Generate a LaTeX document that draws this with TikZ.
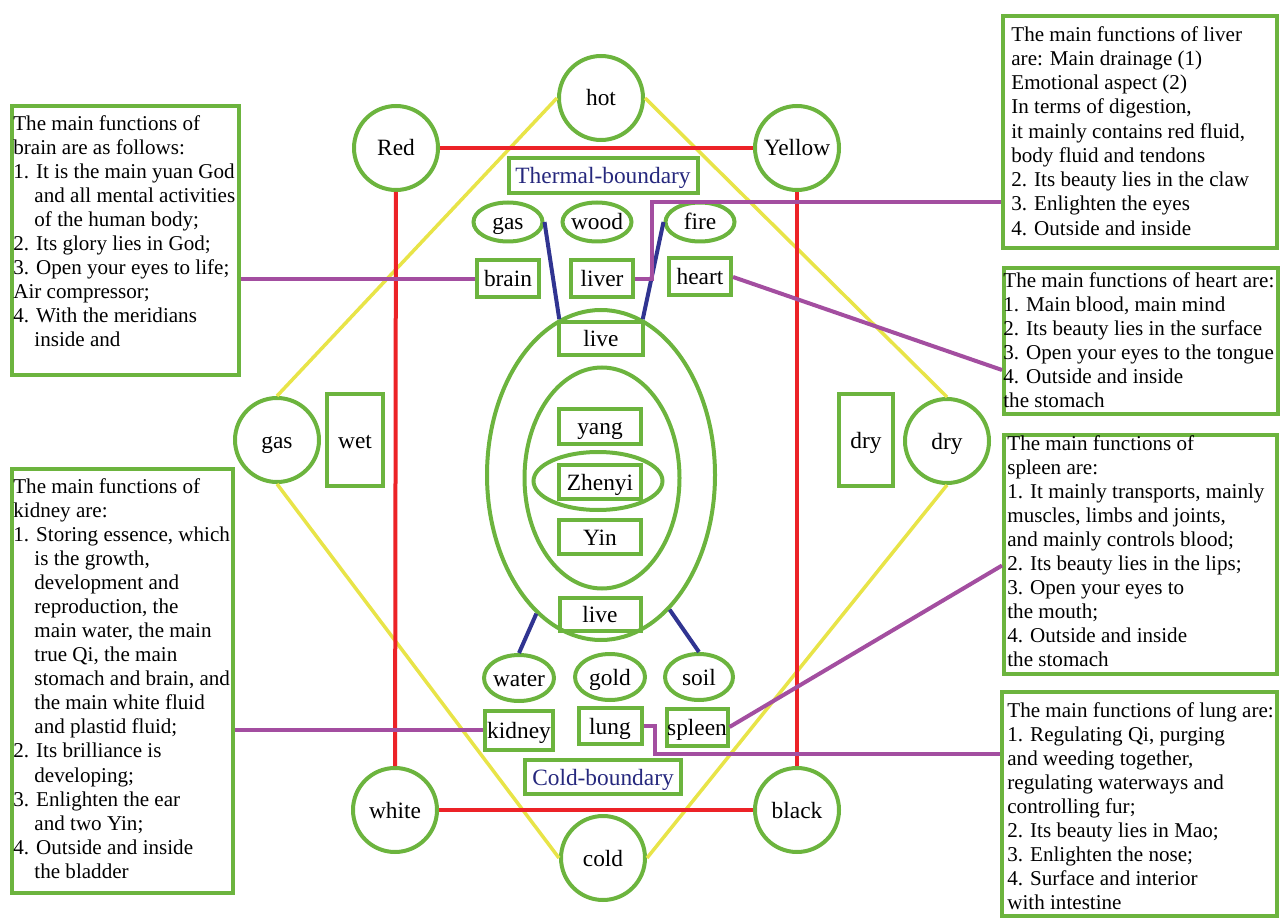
\documentclass[tikz,border=0pt]{standalone}
\usepackage{fontspec}
\setmainfont{Liberation Serif}
\usetikzlibrary{positioning}
\usetikzlibrary{shapes.geometric}
\newdimen\px
\px=0.02cm
\definecolor{ringgreen}{RGB}{108,180,62}
\definecolor{linered}{RGB}{236,34,39}
\definecolor{lineyellow}{RGB}{232,228,72}
\definecolor{lineblue}{RGB}{48,52,145}
\definecolor{linepurple}{RGB}{163,78,160}
\definecolor{labelnavy}{RGB}{38,40,125}
\newcommand\indt{\hspace*{1em}}

\begin{document}
\begin{tikzpicture}
    [
    x=0.02cm, y=-0.02cm,
    on grid,
    every node/.style={inner sep=0pt, font=\fontsize{13.3}{16}\selectfont},
    ring/.style={circle, draw=ringgreen, line width=4\px, minimum size=84\px, text height=20\px, text depth=4\px},
    oval/.style={ellipse, draw=ringgreen, line width=4\px, inner sep=-8\px, minimum width=69\px, minimum height=39\px, text height=20\px, text depth=4\px},
    shell/.style={ellipse, draw=ringgreen, line width=4\px},
    organ/.style={rectangle, draw=ringgreen, line width=4\px, minimum width=62\px, minimum height=37\px, text height=20\px, text depth=4\px},
    infobox/.style={rectangle, draw=ringgreen, line width=4\px, anchor=north west},
    infotext/.style={anchor=north west, align=left, font=\fontsize{12}{#1}\selectfont},
    infotext/.default=13.7,
    hotcold/.style={draw=lineyellow, line width=3.5\px},
    colour/.style={draw=linered, line width=4\px},
    flow/.style={draw=lineblue, line width=4\px},
    link/.style={draw=linepurple, line width=4\px},
    ]
    \useasboundingbox (0,0) rectangle (1280,918);

    % outer circles
    \node[ring] (cir_hot) at (601,98) {hot};
    \node[ring] (cir_red) at (396,148) {Red};
    \node[ring] (cir_yellow) at (797,148) {Yellow};
    \node[ring] (cir_gas) at (277,440) {gas};
    \node[ring] (cir_dry) at (947,441) {dry};
    \node[ring] (cir_white) at (395,810) {white};
    \node[ring] (cir_black) at (797,810) {black};
    \node[ring] (cir_cold) at (603,858) {cold};

    \node[organ, minimum width=56\px, minimum height=92\px] (box_wet) at (355,440) {wet};
    \node[organ, minimum width=54\px, minimum height=92\px] (box_dry) at (866,440) {dry};

    \node[organ, minimum width=189\px, minimum height=35\px, text=labelnavy] (box_thermal) at (603,176) {Thermal-boundary};
    \node[organ, minimum width=156\px, minimum height=34\px, text=labelnavy] (box_coldb) at (603,777) {Cold-boundary};

    % upper phases
    \node[oval] (ell_gas) at (508,222) {gas};
    \node[oval] (ell_wood) at (597,222) {wood};
    \node[oval] (ell_fire) at (700,222) {fire};
    \node[organ, below=57\px of ell_gas] (box_brain) {brain};
    \node[organ, below=57\px of ell_wood, xshift=5\px] (box_liver) {liver};
    \node[organ, below=55\px of ell_fire] (box_heart) {heart};

    % centre
    \node[shell, minimum width=228\px, minimum height=330\px] (ring_outer) at (601,475) {};
    \node[shell, minimum width=155\px, minimum height=221\px] (ring_inner) at (602,478) {};
    \node[shell, minimum width=129\px, minimum height=58\px] (ring_zhenyi) at (598,481) {};
    \node[organ, minimum width=84\px, minimum height=33\px] (box_live_up) at (601,339) {live};
    \node[organ, minimum width=82\px, minimum height=34\px] (box_zhenyi) at (600,482) {Zhenyi};
    \node[organ, minimum width=82\px, minimum height=35\px, above=56\px of box_zhenyi] (box_yang) {yang};
    \node[organ, minimum width=82\px, minimum height=34\px, below=55\px of box_zhenyi] (box_yin) {Yin};
    \node[organ, minimum width=81\px, minimum height=33\px] (box_live_dn) at (600,614) {live};

    % lower phases
    \node[oval, minimum width=70\px, minimum height=46\px] (ell_water) at (519,678) {water};
    \node[oval, minimum width=70\px, minimum height=46\px] (ell_gold) at (610,677) {gold};
    \node[oval, minimum width=68\px, minimum height=46\px] (ell_soil) at (699,677) {soil};
    \node[organ, minimum width=68\px, minimum height=39\px, below=52\px of ell_water] (box_kidney) {kidney};
    \node[organ, minimum width=63\px, minimum height=36\px, below=49\px of ell_gold] (box_lung) {lung};
    \node[organ, minimum width=61\px, minimum height=37\px, below=50\px of ell_soil, xshift=-2\px] (box_spleen) {spleen};

    % function boxes
    \node[infobox, minimum width=227\px, minimum height=269\px] (info_brain) at (10,104) {};
    \node[infotext] (txt_brain) at (13,115) {The main functions of\\ brain are as follows:\\ 1. It is the main yuan God\\ \indt and all mental activities\\ \indt of the human body;\\ 2. Its glory lies in God;\\ 3. Open your eyes to life;\\ Air compressor;\\ 4. With the meridians\\ \indt inside and};

    \node[infobox, minimum width=221\px, minimum height=424\px] (info_kidney) at (10,467) {};
    \node[infotext] (txt_kidney) at (13,478) {The main functions of\\ kidney are:\\ 1. Storing essence, which\\ \indt is the growth,\\ \indt development and\\ \indt reproduction, the\\ \indt main water, the main\\ \indt true Qi, the main\\ \indt stomach and brain, and\\ \indt the main white fluid\\ \indt and plastid fluid;\\ 2. Its brilliance is\\ \indt developing;\\ 3. Enlighten the ear\\ \indt and two Yin;\\ 4. Outside and inside\\ \indt the bladder};

    \node[infobox, minimum width=274\px, minimum height=232\px] (info_liver) at (1001,14) {};
    \node[infotext=13.8] (txt_liver) at (1011,26) {The main functions of liver\\ are: Main drainage (1)\\ Emotional aspect (2)\\ In terms of digestion,\\ it mainly contains red fluid,\\ body fluid and tendons\\ 2. Its beauty lies in the claw\\ 3. Enlighten the eyes\\ 4. Outside and inside};

    \node[infobox, minimum width=274\px, minimum height=146\px] (info_heart) at (1002,266) {};
    \node[infotext] (txt_heart) at (1003,272) {The main functions of heart are:\\ 1. Main blood, main mind\\ 2. Its beauty lies in the surface\\ 3. Open your eyes to the tongue\\ 4. Outside and inside\\ the stomach};

    \node[infobox, minimum width=273\px, minimum height=239\px] (info_spleen) at (1002,433) {};
    \node[infotext] (txt_spleen) at (1007,435) {The main functions of\\ spleen are:\\ 1. It mainly transports, mainly\\ muscles, limbs and joints,\\ and mainly controls blood;\\ 2. Its beauty lies in the lips;\\ 3. Open your eyes to\\ the mouth;\\ 4. Outside and inside\\ the stomach};

    \node[infobox, minimum width=275\px, minimum height=224\px] (info_lung) at (1000,690) {};
    \node[infotext] (txt_lung) at (1007,702) {The main functions of lung are:\\ 1. Regulating Qi, purging\\ and weeding together,\\ regulating waterways and\\ controlling fur;\\ 2. Its beauty lies in Mao;\\ 3. Enlighten the nose;\\ 4. Surface and interior\\ with intestine};

    % hot and cold
    \draw[hotcold] (cir_hot.west) -- (cir_gas.north);
    \draw[hotcold] (cir_hot.east) -- (cir_dry.north);
    \draw[hotcold] (cir_gas.south) -- (cir_cold.west);
    \draw[hotcold] (cir_dry.south) -- (cir_cold.east);

    % colours
    \draw[colour] (cir_red) -- (cir_yellow);
    \draw[colour] (cir_red) -- (cir_white);
    \draw[colour] (cir_yellow) -- (cir_black);
    \draw[colour] (cir_white) -- (cir_black);

    \draw[flow] (ell_gas.east) -- (ring_outer.105);
    \draw[flow] (ell_fire.west) -- (ring_outer.75);
    \draw[flow] (ring_outer.245) -- (ell_water.north);
    \draw[flow] (ring_outer.297) -- (ell_soil.north);

    % organs to their functions
    \draw[link] (box_brain.west) -- (box_brain.west -| info_brain.east);
    \draw[link] (box_liver.east) -- ++(17,0) |- ([yshift=-70\px]info_liver.west);
    \draw[link] (box_heart.east) -- ([yshift=-29\px]info_heart.west);
    \draw[link] (box_kidney.west) -- (box_kidney.west -| info_kidney.east);
    \draw[link] (box_lung.east) -- ++(11,0) |- ([yshift=50\px]info_lung.west);
    \draw[link] (box_spleen.east) -- ([yshift=-11\px]info_spleen.west);
\end{tikzpicture}
\end{document}
